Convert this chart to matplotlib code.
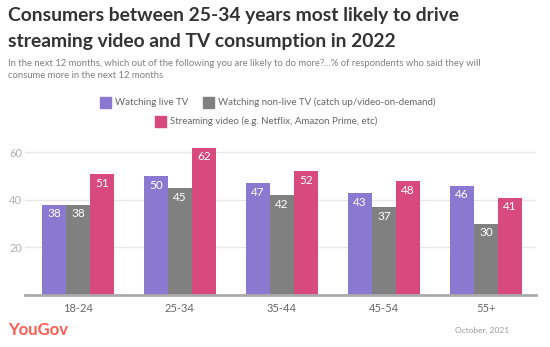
import matplotlib
matplotlib.use("Agg")
import matplotlib.pyplot as plt
import numpy as np
from matplotlib.patches import Rectangle

# data
age_groups = ["18-24", "25-34", "35-44", "45-54", "55+"]
live_tv = [38, 50, 47, 43, 46]
non_live_tv = [38, 45, 42, 37, 30]
streaming = [51, 62, 52, 48, 41]
series_names = ["Watching live TV",
                "Watching non-live TV (catch up/video-on-demand)",
                "Streaming video (e.g. Netflix, Amazon Prime, etc)"]
colors = ["#8a79d1", "#808080", "#d84a7e"]

plt.rcParams['font.family'] = ['Lato', 'DejaVu Sans']

fig = plt.figure(figsize=(5.5, 3.47), dpi=100)
ax = fig.add_axes([0.045, 0.150, 0.93, 0.452])

x = np.arange(len(age_groups))
w = 0.235
for i, (vals, c) in enumerate(zip([live_tv, non_live_tv, streaming], colors)):
    bars = ax.bar(x + (i - 1) * w, vals, width=w, color=c, zorder=3)
    for b, v in zip(bars, vals):
        ax.text(b.get_x() + b.get_width() / 2, v - 1.6, str(v), ha="center", va="top",
                color="white", fontsize=8.5, zorder=4)

ax.set_xlim(-0.52, 4.49)
ax.set_ylim(0, 66)
ax.set_yticks([20, 40, 60])
ax.set_xticks(x)
ax.set_xticklabels(age_groups)
ax.tick_params(axis="x", length=0, labelsize=8, labelcolor="#666666", pad=6)
ax.tick_params(axis="y", length=0, labelsize=8, labelcolor="#b0b0b0", pad=2)
ax.grid(axis="y", color="#e8e8e8", linewidth=1, zorder=0)
for s in ["top", "right", "left"]:
    ax.spines[s].set_visible(False)
ax.spines["bottom"].set_color("#aaaaaa")
ax.spines["bottom"].set_linewidth(2)
ax.spines["bottom"].set_zorder(5)

# titles
fig.text(8 / 550, 1 - 16 / 347, "Consumers between 25-34 years most likely to drive",
         fontsize=13.9, fontweight="bold", color="#333333", va="center")
fig.text(8 / 550, 1 - 41 / 347, "streaming video and TV consumption in 2022",
         fontsize=13.9, fontweight="bold", color="#333333", va="center")
fig.text(8 / 550, 1 - 63 / 347,
         "In the next 12 months, which out of the following you are likely to do more?...% of respondents who said they will",
         fontsize=6.8, color="#808080", va="center")
fig.text(8 / 550, 1 - 76 / 347, "consume more in the next 12 months",
         fontsize=6.8, color="#808080", va="center")

# legend drawn by hand (two centred rows)
legend_items = [(100, 102, 0), (203, 102, 1), (155, 121, 2)]
for px, py, k in legend_items:
    fig.patches.append(Rectangle((px / 550, 1 - (py + 5.5) / 347), 11 / 550, 11 / 347,
                                 transform=fig.transFigure, color=colors[k]))
    fig.text((px + 15) / 550, 1 - py / 347, series_names[k], fontsize=7,
             color="#666666", va="center")

# footer
fig.text(8 / 550, 1 - 330 / 347, "YouGov", fontsize=12, fontweight="bold",
         color="#ff5a4f", va="center")
fig.text(509 / 550, 1 - 330 / 347, "October, 2021", fontsize=6, color="#999999",
         va="center", ha="right")

fig.savefig("out.png", dpi=100)
